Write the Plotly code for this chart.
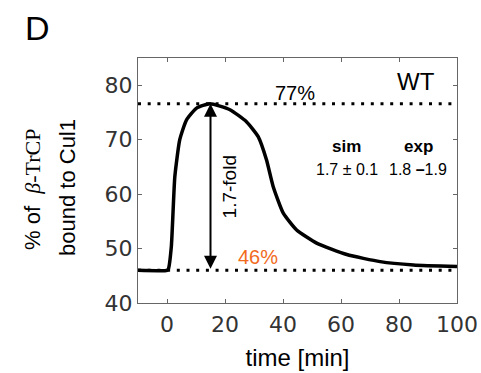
import plotly.graph_objects as go

# data
time_min = [-10, 0, 0.5, 1.5, 2.7, 4.4, 6.7, 10.2, 14.8, 21.7, 27.4, 31.4, 34.3, 36.6, 40.1, 44.7, 51.6, 62, 73.5, 85, 100]
bound_pct = [46, 46, 46.3, 50.4, 63.2, 70, 73.6, 75.8, 76.6, 75.5, 73.3, 70.6, 66.3, 61.4, 56.5, 53.4, 51.0, 48.9, 47.6, 47.0, 46.7]
peak_level = 76.6
base_level = 46.0
peak_time = 15
x_ticks = [0, 20, 40, 60, 80, 100]
y_ticks = [40, 50, 60, 70, 80]

SANS = "Liberation Sans"
W, H = 481, 373
ml, mr, mt, mb = 138, 24, 58, 70
pw, ph = W - ml - mr, H - mt - mb


def px2paper(xp, yp):
    return (xp - ml) / pw, (H - mb - yp) / ph


fig = go.Figure()
dot = dict(color="black", width=3, dash="3px,6.7px")
fig.add_trace(go.Scatter(x=[-10, 100], y=[peak_level, peak_level], mode="lines", line=dot, hoverinfo="skip"))
fig.add_trace(go.Scatter(x=[-10, 100], y=[base_level, base_level], mode="lines", line=dot, hoverinfo="skip"))
fig.add_trace(go.Scatter(x=time_min, y=bound_pct, mode="lines",
                         line=dict(color="black", width=3.5, shape="spline", smoothing=0.5)))


def txt(x, y, text, size, color="black", angle=0, ref="data", family=SANS):
    d = dict(x=x, y=y, text=text, showarrow=False, textangle=angle,
             xanchor="center", yanchor="middle",
             font=dict(family=family, size=size, color=color))
    if ref == "paper":
        d.update(xref="paper", yref="paper")
    return d


ann = []
ann.append(dict(x=peak_time, y=peak_level, ax=peak_time, ay=base_level, xref="x", yref="y",
                axref="x", ayref="y", showarrow=True, arrowhead=2, arrowside="end+start",
                arrowsize=1.3, arrowwidth=2, arrowcolor="black", text=""))
ann.append(txt(21.7, 61.4, "1.7-fold", 19, angle=-90))
ann.append(txt(44, 78.6, "77%", 20))
ann.append(txt(31.4, 48.5, "46%", 20, color="#F26B1D"))
ann.append(txt(86, 80.7, "WT", 24))
ann.append(txt(62, 68.7, "<b>sim</b>", 17))
ann.append(txt(86.6, 68.7, "<b>exp</b>", 17))
ann.append(txt(62, 64.6, "1.7 ± 0.1", 16))
ann.append(txt(86.6, 64.6, "1.8 <b>–</b>1.9", 16))

x1, y1 = px2paper(32, 190)
ann.append(txt(x1, y1, "% of  <span style=\"font-family:'Liberation Serif'\"><i>β</i>-TrCP</span>", 22,
               angle=-90, ref="paper"))
x2, y2 = px2paper(68, 188)
ann.append(txt(x2, y2, "bound to Cul1", 22, angle=-90, ref="paper"))
x3, y3 = px2paper(38, 28)
ann.append(txt(x3, y3, "D", 34, ref="paper"))
fig.update_layout(annotations=ann)

axis_common = dict(showline=True, linecolor="#666", linewidth=1, mirror="ticks",
                   ticks="inside", ticklen=4, tickcolor="#666", showgrid=False, zeroline=False,
                   ticklabeloverflow="allow", automargin=False,
                   tickfont=dict(family="DejaVu Sans", size=22, color="#333"))
fig.update_xaxes(range=[-10, 100], tickvals=x_ticks, ticklabelstandoff=2, **axis_common,
                 title=dict(text="time [min]", font=dict(family=SANS, size=24, color="black"), standoff=12))
fig.update_yaxes(range=[40, 85], tickvals=y_ticks, **axis_common)

fig.update_layout(width=W, height=H, margin=dict(l=ml, r=mr, t=mt, b=mb, autoexpand=False),
                  plot_bgcolor="white", paper_bgcolor="white", showlegend=False)
fig.write_html("out.html", config={"displayModeBar": False},
               post_script="document.body.style.margin='0';document.body.style.overflow='hidden';")
